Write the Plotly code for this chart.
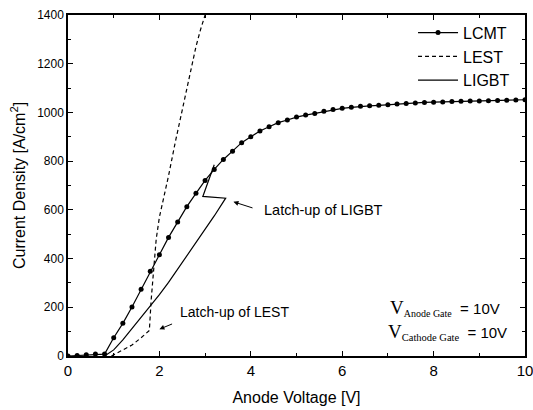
import plotly.graph_objects as go

# ---- data ----
lcmt_x = [0.0, 0.2, 0.4, 0.6, 0.8, 1.0, 1.2, 1.4, 1.6, 1.8, 2.0, 2.2, 2.4, 2.6, 2.8,
          3.0, 3.2, 3.4, 3.6, 3.8, 4.0, 4.2, 4.4, 4.6, 4.8, 5.0, 5.2, 5.4, 5.6, 5.8,
          6.0, 6.2, 6.4, 6.6, 6.8, 7.0, 7.2, 7.4, 7.6, 7.8, 8.0, 8.2, 8.4, 8.6, 8.8,
          9.0, 9.2, 9.4, 9.6, 9.8, 10.0]
lcmt_y = [0, 2, 5, 8, 8, 75, 134, 201, 274, 348, 416, 487, 550, 613, 668,
          721, 766, 807, 841, 876, 900, 924, 941, 958, 969, 981, 989, 996, 1005, 1012,
          1017, 1021, 1025, 1027, 1029, 1032, 1035, 1037, 1039, 1041, 1042, 1043, 1045, 1046, 1047,
          1047, 1048, 1049, 1050, 1051, 1052]

lest_x = [0.95, 1.2, 1.4, 1.6, 1.78, 1.82, 1.87, 1.93, 2.0, 2.1, 2.2, 2.35, 2.5, 2.65, 2.8, 2.9, 3.0]
lest_y = [0, 25, 45, 75, 105, 230, 360, 480, 570, 650, 740, 880, 1010, 1140, 1270, 1340, 1400]

ligbt_x = [0.8, 1.0, 1.2, 1.4, 1.6, 1.8, 2.0, 2.2, 2.4, 2.6, 2.8, 3.0, 3.2, 3.45, 2.95, 3.2]
ligbt_y = [0, 25, 66, 112, 158, 203, 252, 302, 356, 410, 465, 520, 575, 648, 655, 785]

x_ticks = [0, 2, 4, 6, 8, 10]
y_ticks = [0, 200, 400, 600, 800, 1000, 1200, 1400]

FONT = "Arial, 'Liberation Sans', Helvetica, sans-serif"
SERIF = "Liberation Serif, Times New Roman, DejaVu Serif, serif"

fig = go.Figure()
fig.add_trace(go.Scatter(x=lcmt_x, y=lcmt_y, mode="lines+markers", name="LCMT",
                         line=dict(color="black", width=1.2),
                         marker=dict(color="black", size=5)))
fig.add_trace(go.Scatter(x=lest_x, y=lest_y, mode="lines", name="LEST",
                         line=dict(color="black", width=1.2, dash="4px,3px")))
fig.add_trace(go.Scatter(x=ligbt_x, y=ligbt_y, mode="lines", name="LIGBT",
                         line=dict(color="black", width=1.2)))

axis_common = dict(showgrid=False, zeroline=False, showline=True, linecolor="black",
                   linewidth=1.5, mirror="allticks", ticks="inside", ticklen=5,
                   tickwidth=1.2, tickcolor="black", automargin=False,
                   ticklabeloverflow="allow")

fig.update_xaxes(range=[0, 10], tickvals=x_ticks, ticktext=[str(v) for v in x_ticks],
                 minor=dict(dtick=1, ticks="inside", ticklen=3, tickcolor="black", tickwidth=1),
                 tickfont=dict(family=FONT, size=15, color="black"),
                 title=dict(text="Anode Voltage [V]", font=dict(family=FONT, size=16, color="black"),
                            standoff=14),
                 **axis_common)
fig.update_yaxes(range=[0, 1400], tickvals=y_ticks, ticktext=[str(v) for v in y_ticks],
                 minor=dict(dtick=100, ticks="inside", ticklen=3, tickcolor="black", tickwidth=1),
                 tickfont=dict(family=FONT, size=12, color="black"),
                 title=dict(text="Current Density [A/cm<sup>2</sup>]",
                            font=dict(family=FONT, size=16, color="black"), standoff=8),
                 **axis_common)

# annotations
fig.add_annotation(x=3.62, y=633, ax=4.07, ay=606, axref="x", ayref="y", text="",
                   showarrow=True, arrowhead=2, arrowsize=1, arrowwidth=1, arrowcolor="black")
fig.add_annotation(x=4.25, y=600, text="Latch-up of LIGBT", showarrow=False, xanchor="left",
                   font=dict(family=FONT, size=14.5, color="black"))
fig.add_annotation(x=2.0, y=110, ax=2.31, ay=134, axref="x", ayref="y", text="",
                   showarrow=True, arrowhead=2, arrowsize=1, arrowwidth=1, arrowcolor="black")
fig.add_annotation(x=2.41, y=181, text="Latch-up of LEST", showarrow=False, xanchor="left",
                   font=dict(family=FONT, size=14, color="black"))

def vlabel(sub, subsize):
    return (f'<span style="font-family:{SERIF};font-size:19px">V</span>'
            f'<sub><span style="font-family:{SERIF};font-size:{subsize}px">{sub}</span></sub>'
            '  = 10V')

fig.add_annotation(x=7.0, y=197, xanchor="left", showarrow=False, text=vlabel("Anode Gate", 10),
                   font=dict(family=FONT, size=15, color="black"))
fig.add_annotation(x=6.95, y=98, xanchor="left", showarrow=False, text=vlabel("Cathode Gate", 10.5),
                   font=dict(family=FONT, size=15, color="black"))

fig.update_layout(
    width=533, height=410,
    margin=dict(l=68, r=8, t=15, b=54),
    paper_bgcolor="white", plot_bgcolor="white",
    font=dict(family=FONT, color="black"),
    legend=dict(x=0.755, y=0.998, xanchor="left", yanchor="top",
                bgcolor="rgba(0,0,0,0)", borderwidth=0, itemwidth=40,
                font=dict(family=FONT, size=16, color="black"),
                tracegroupgap=0),
    showlegend=True,
)

fig.write_html("out.html")
